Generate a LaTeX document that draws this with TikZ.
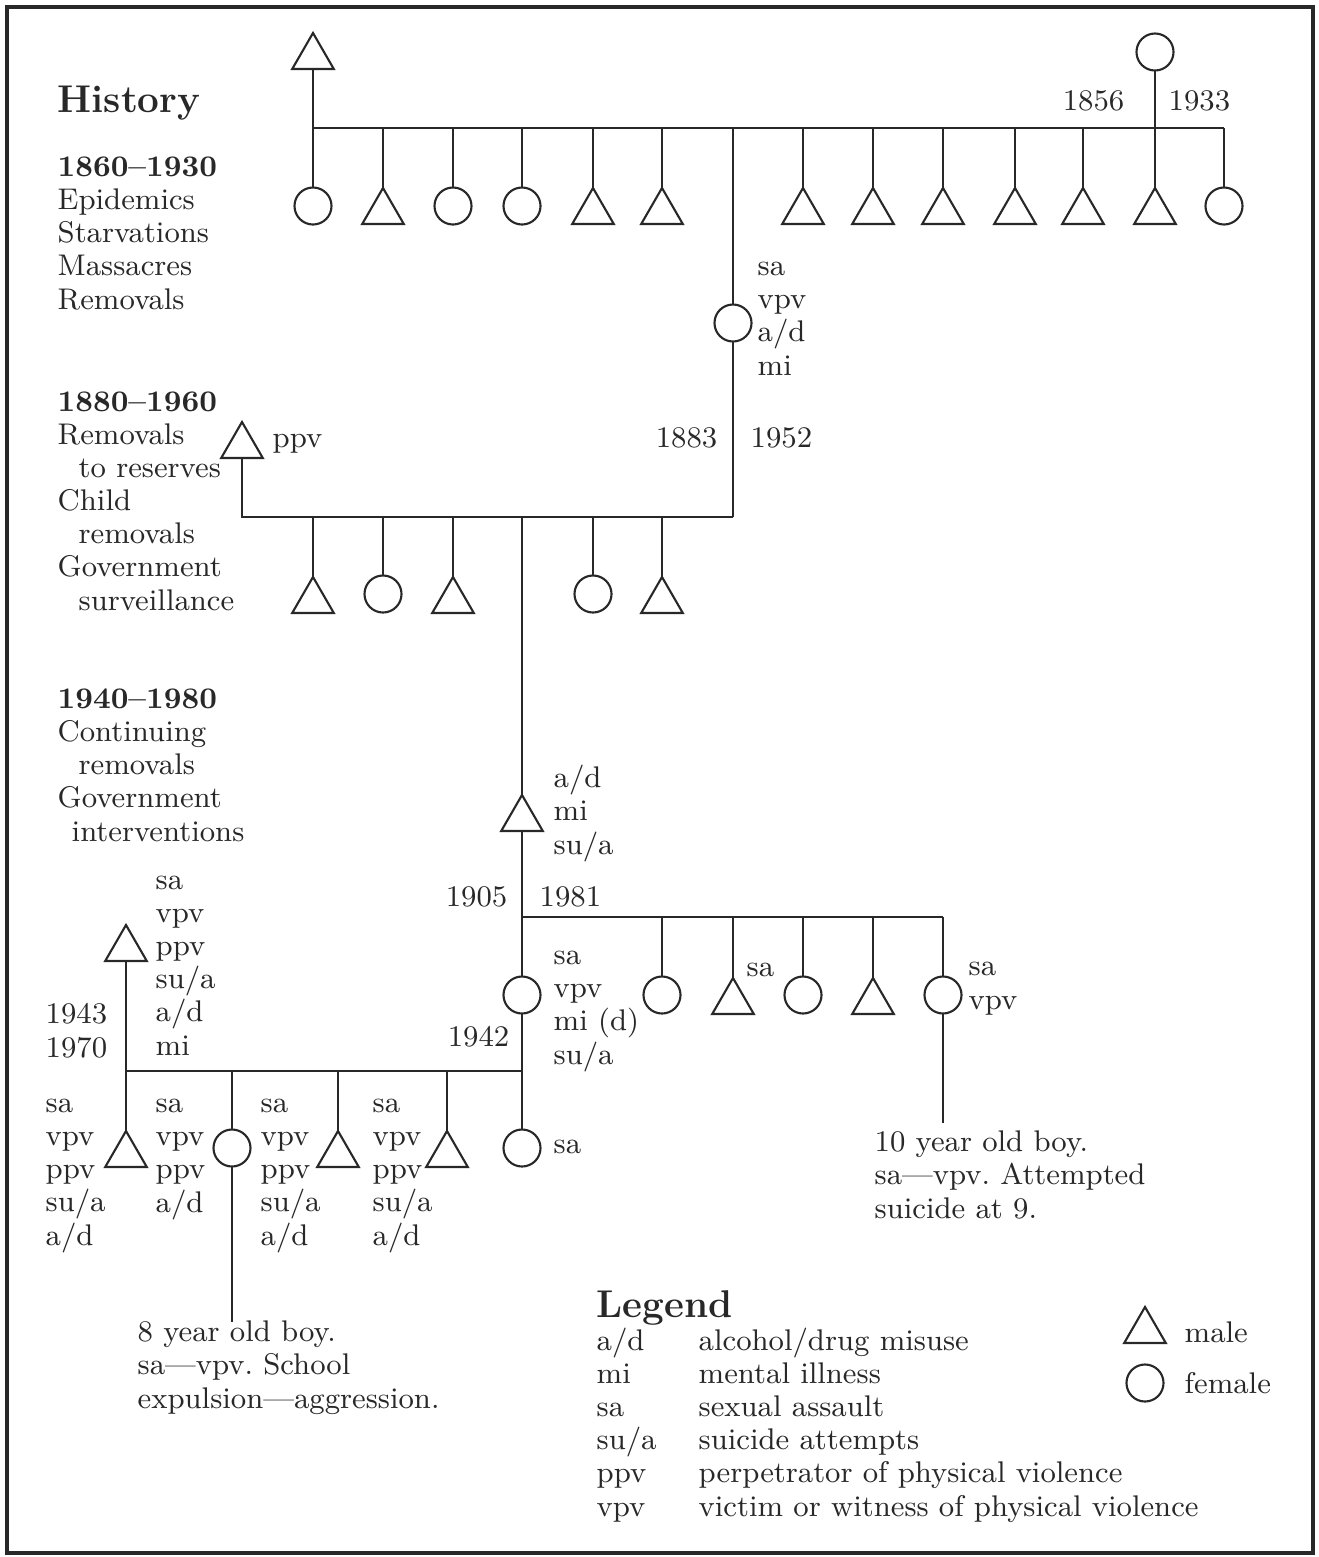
\documentclass[tikz,border=0pt]{standalone}
\usepackage{tikz}
\usetikzlibrary{shapes.geometric, positioning, calc}
\definecolor{inkGray}{RGB}{40, 40, 40}
\frenchspacing

\begin{document}
\begin{tikzpicture}[
    x=0.01cm, y=-0.01cm,
    male/.style={
      regular polygon, regular polygon sides=3, draw=inkGray,
      line width=0.6pt, minimum size=0.48cm, inner sep=0pt, outer sep=0pt
    },
    female/.style={
      circle, draw=inkGray, line width=0.6pt,
      minimum size=0.37cm, inner sep=0pt, outer sep=0pt
    },
    % multi-line notes sit on the baseline of their last line
    note/.style={anchor=base west, inner sep=0pt, align=left,
      font=\fontsize{8.5}{9.4}\selectfont, text=inkGray},
    noteR/.style={note, anchor=base east, align=right},
    bigHead/.style={note, font=\fontsize{11}{13}\selectfont\bfseries},
    link/.style={draw=inkGray, line width=0.6pt},
  ]
    \useasboundingbox (0,0) rectangle (1319,1557);
    \draw[inkGray, line width=0.9pt] (7,7) rectangle (1313,1553);

    % History column
    \node[bigHead] (hist) at (57,112) {History};
    \node[note] (era1) at (57,309)
      {\textbf{1860--1930}\\Epidemics\\Starvations\\Massacres\\Removals};
    \node[note] (era2) at (57,610)
      {\textbf{1880--1960}\\Removals\\\hspace*{0.21cm}to reserves\\Child\\
       \hspace*{0.21cm}removals\\Government\\\hspace*{0.21cm}surveillance};
    \node[note] (era3) at (57,841)
      {\textbf{1940--1980}\\Continuing\\\hspace*{0.21cm}removals\\Government\\
       \hspace*{0.14cm}interventions};

    % First generation
    \node[male] (g0m) at (313,57) {};
    \node[female] (g0f) at (1155,52) {};
    \coordinate (s0L) at (313,128);
    \coordinate (s0R) at (1224,128);
    \draw[link] (s0L) -- (s0R);
    \foreach \x in {313,453,522,1224} {
      \node[female] (sib\x) at (\x,206) {};
      \draw[link] (sib\x.north) -- (sib\x.north |- s0L);
    }
    \foreach \x in {383,593,662,803,873,943,1015,1083,1155} {
      \node[male] (sib\x) at (\x,212) {};
      \draw[link] (sib\x.north) -- (sib\x.north |- s0L);
    }
    \draw[link] (g0m.south) -- (sib313.north);
    \draw[link] (g0f.south) -- (sib1155.north);
    \node[noteR] (yr1856) at (1125,110) {1856};
    \node[note] (yr1933) at (1168,110) {1933};

    % Second generation
    \node[female] (b0) at (733,323) {};
    \node[male] (b1) at (242,446) {};
    \coordinate (s1L) at (242,517);
    \coordinate (s1R) at (733,517);
    \draw[link] (b0.north) -- (b0.north |- s0L);
    \draw[link] (b0.south) -- (s1R);
    \draw[link] (b1.south) -- (s1L) -- (s1R);
    \node[note] (b0tags) at (757,375) {sa\\vpv\\a/d\\mi};
    \node[note] (b1tags) at (272,447) {ppv};
    \node[noteR] (yr1883) at (718,447) {1883};
    \node[note] (yr1952) at (750,447) {1952};
    \foreach \x in {383,593} {
      \node[female] (kid\x) at (\x,594) {};
      \draw[link] (kid\x.north) -- (kid\x.north |- s1L);
    }
    \foreach \x in {313,453,662} {
      \node[male] (kid\x) at (\x,601) {};
      \draw[link] (kid\x.north) -- (kid\x.north |- s1L);
    }

    % Third generation
    \node[male] (c0) at (522,819) {};
    \node[female] (c1) at (522,995) {};
    \draw[link] (c0.north) -- (c0.north |- s1L);
    \draw[link] (c0.south) -- (c1.north);
    \coordinate (s2L) at (522,917);
    \coordinate (s2R) at (943,917);
    \draw[link] (s2L) -- (s2R);
    \node[note] (c0tags) at (553,854) {a/d\\mi\\su/a};
    \node[note] (c1tags) at (553,1064) {sa\\vpv\\mi (d)\\su/a};
    \node[noteR] (yr1905) at (508,906) {1905};
    \node[note] (yr1981) at (539,906) {1981};
    \node[noteR] (yr1942) at (510,1046) {1942};
    \foreach \x in {662,803,943} {
      \node[female] (gc\x) at (\x,995) {};
      \draw[link] (gc\x.north) -- (gc\x.north |- s2L);
    }
    \foreach \x in {733,873} {
      \node[male] (gc\x) at (\x,1002) {};
      \draw[link] (gc\x.north) -- (gc\x.north |- s2L);
    }
    \node[note] (gc733tags) at (746,976) {sa};
    \node[note] (gc943tags) at (968,1009) {sa\\vpv};
    \coordinate (boyA) at (943,1123);
    \draw[link] (gc943.south) -- (boyA);
    \node[note] (boyAnote) at (874,1218)
      {10 year old boy.\\sa---vpv. Attempted\\suicide at 9.};

    % Fourth generation
    \node[male] (c2) at (126,949) {};
    \coordinate (s3L) at (126,1071);
    \coordinate (s3R) at (522,1071);
    \draw[link] (s3L) -- (s3R);
    \node[note] (c2tags) at (155,1055) {sa\\vpv\\ppv\\su/a\\a/d\\mi};
    \node[note] (c2yrs) at (45,1057) {1943\\1970};
    \node[male] (d1) at (126,1155) {};
    \node[female] (d2) at (232,1148) {};
    \node[male] (d3) at (338,1155) {};
    \node[male] (d4) at (447,1155) {};
    \node[female] (d5) at (522,1148) {};
    \draw[link] (c2.south) -- (d1.north);
    \draw[link] (c1.south) -- (d5.north);
    \foreach \d in {d2,d3,d4} {
      \draw[link] (\d.north) -- (\d.north |- s3L);
    }
    \node[note] (d1tags) at (45,1245) {sa\\vpv\\ppv\\su/a\\a/d};
    \node[note] (d2tags) at (155,1212) {sa\\vpv\\ppv\\a/d};
    \node[note] (d3tags) at (260,1245) {sa\\vpv\\ppv\\su/a\\a/d};
    \node[note] (d4tags) at (372,1245) {sa\\vpv\\ppv\\su/a\\a/d};
    \node[note] (d5tags) at (553,1153) {sa};
    \coordinate (boyB) at (232,1322);
    \draw[link] (d2.south) -- (boyB);
    \node[note] (boyBnote) at (137,1408)
      {8 year old boy.\\sa---vpv. School\\expulsion---aggression.};

    % Legend
    \node[bigHead] (legend) at (596,1317) {Legend};
    \node[note] (legAbbr) at (596,1516) {a/d\\mi\\sa\\su/a\\ppv\\vpv};
    \node[note] (legDesc) at (698,1516)
      {alcohol/drug misuse\\mental illness\\sexual assault\\suicide attempts\\
       perpetrator of physical violence\\victim or witness of physical violence};
    \node[male] (legMale) at (1145,1331) {};
    \node[female] (legFemale) at (1145,1383) {};
    \node[note] (legMaleTxt) at (1184,1342) {male};
    \node[note] (legFemaleTxt) at (1184,1393) {female};
  \end{tikzpicture}
\end{document}
